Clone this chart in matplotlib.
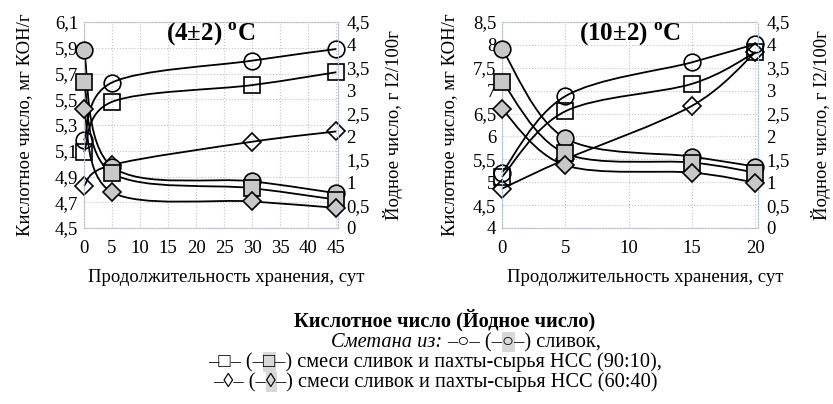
import matplotlib
matplotlib.use("Agg")
import matplotlib.pyplot as plt
from matplotlib.path import Path
from matplotlib.patches import PathPatch, Rectangle

plt.rcParams['font.family'] = ['Liberation Serif', 'DejaVu Sans']
plt.rcParams['mathtext.fontset'] = 'custom'
plt.rcParams['mathtext.rm'] = 'Liberation Serif'
plt.rcParams['mathtext.bf'] = 'Liberation Serif:bold'

# storage at (4±2) °C
days_4 = [0, 5, 30, 45]
acid_4_cream = [5.18, 5.63, 5.80, 5.89]
acid_4_mix90 = [5.09, 5.48, 5.61, 5.71]
acid_4_mix60 = [4.83, 4.99, 5.17, 5.25]
iod_4_cream = [3.89, 1.34, 1.02, 0.76]
iod_4_mix90 = [3.19, 1.20, 0.87, 0.62]
iod_4_mix60 = [2.60, 0.78, 0.58, 0.44]

# storage at (10±2) °C
days_10 = [0, 5, 15, 20]
acid_10_cream = [5.21, 6.88, 7.62, 8.02]
acid_10_mix90 = [5.12, 6.55, 7.15, 7.84]
acid_10_mix60 = [4.86, 5.50, 6.67, 7.84]
iod_10_cream = [3.91, 1.96, 1.56, 1.34]
iod_10_mix90 = [3.20, 1.63, 1.43, 1.21]
iod_10_mix60 = [2.59, 1.37, 1.21, 0.99]

left_ticks_4 = [4.5, 4.7, 4.9, 5.1, 5.3, 5.5, 5.7, 5.9, 6.1]
left_ticks_10 = [4, 4.5, 5, 5.5, 6, 6.5, 7, 7.5, 8, 8.5]
right_ticks = [0, 0.5, 1, 1.5, 2, 2.5, 3, 3.5, 4, 4.5]

XLABEL = 'Продолжительность хранения, сут'
YLABEL_L = 'Кислотное число, мг КОН/г'
YLABEL_R = '\u0419одное число, г I2/100г'

GREY = '#c8c8c8'
FS = 13.5      # ticks and axis labels
FS_LEG = 14.7  # legend under the charts

fig = plt.figure(figsize=(8.33, 4.04), dpi=100)
W, H = 833, 404


def fmt(v):
    s = ('%.1f' % v).replace('.', ',')
    return s[:-2] if s.endswith(',0') else s


def smooth(ax, xs, ys, z):
    # excel-like smoothed line: cubic bezier through the points
    n = len(xs)
    pts = list(zip(xs, ys))
    verts = [pts[0]]
    codes = [Path.MOVETO]
    for i in range(n - 1):
        p0 = pts[max(i - 1, 0)]
        p1 = pts[i]
        p2 = pts[i + 1]
        p3 = pts[min(i + 2, n - 1)]
        c1 = (p1[0] + (p2[0] - p0[0]) / 6, p1[1] + (p2[1] - p0[1]) / 6)
        c2 = (p2[0] - (p3[0] - p1[0]) / 6, p2[1] - (p3[1] - p1[1]) / 6)
        verts += [c1, c2, p2]
        codes += [Path.CURVE4] * 3
    patch = PathPatch(Path(verts, codes), facecolor='none', edgecolor='black',
                      lw=1.3, zorder=z, clip_on=False)
    ax.add_patch(patch)


def panel(left, right, days, acid, iod, xlim, xticks, lticks, title, lab_l, lab_r):
    top, bottom = 22, 228
    ax = fig.add_axes([left / W, 1 - bottom / H, (right - left) / W, (bottom - top) / H])
    ax2 = ax.twinx()
    ax.set_xlim(*xlim)
    ax.set_ylim(lticks[0], lticks[-1])
    ax2.set_ylim(0, 4.5)
    ax.set_xticks(xticks)
    ax.set_xticklabels([str(t) for t in xticks], fontsize=FS)
    ax.set_yticks(lticks)
    ax.set_yticklabels([fmt(t) for t in lticks], fontsize=FS)
    ax2.set_yticks(right_ticks)
    ax2.set_yticklabels([fmt(t) for t in right_ticks], fontsize=FS)
    ax.tick_params(axis='y', length=0, pad=4)
    ax.tick_params(axis='x', length=0, pad=9)
    ax2.tick_params(axis='y', length=0, pad=6)
    ax.grid(True, color='#c4c4c4', ls=':', lw=0.8)
    for a in (ax, ax2):
        for sp in a.spines.values():
            sp.set_color('#b8c0d8')
            sp.set_linestyle(':')
            sp.set_linewidth(0.8)
    ax.set_xlabel(XLABEL, fontsize=FS, labelpad=8)
    ax.xaxis.label.set_x(0.56)
    yc = 1 - (top + bottom) / 2 / H
    fig.text(lab_l / W, yc, YLABEL_L, rotation=90, ha='center', va='center', fontsize=FS)
    fig.text(lab_r / W, yc, YLABEL_R, rotation=90, ha='center', va='center', fontsize=FS)
    markers = [('o', 12), ('s', 11), ('D', 9)]
    for k, (ys, (m, ms)) in enumerate(zip(acid, markers)):
        smooth(ax, days, ys, 2 + 2 * k)
        ax.plot(days, ys, ls='none', marker=m, ms=ms, mfc='none', mec='black',
                mew=1.2, zorder=3 + 2 * k, clip_on=False)
    for k, (ys, (m, ms)) in enumerate(zip(iod, markers)):
        smooth(ax2, days, ys, 2 + 2 * k)
        ax2.plot(days, ys, ls='none', marker=m, ms=ms, mfc=GREY, mec='black',
                 mew=1.2, zorder=3 + 2 * k, clip_on=False)
    ax2.text(0.5, 0.94, title, transform=ax.transAxes, ha='center', va='center',
             fontsize=18, fontweight='bold', zorder=20)


panel(84, 338, days_4,
      [acid_4_cream, acid_4_mix90, acid_4_mix60],
      [iod_4_cream, iod_4_mix90, iod_4_mix60],
      (0, 45.3), list(range(0, 50, 5)), left_ticks_4, r'(4±2) $^{\mathbf{o}}$C', 25, 393)
panel(502, 758, days_10,
      [acid_10_cream, acid_10_mix90, acid_10_mix60],
      [iod_10_cream, iod_10_mix90, iod_10_mix60],
      (0, 20.2), [0, 5, 10, 15, 20], left_ticks_10, r'(10±2) $^{\mathbf{o}}$C', 450, 821)

# legend built from text pieces
fig.canvas.draw()
r = fig.canvas.get_renderer()


def width(s, **kw):
    t = fig.text(0, 0, s, fontsize=FS_LEG, **kw)
    w = t.get_window_extent(r).width
    t.remove()
    return w


space = FS_LEG * 100 / 72 * 0.25

fig.text(445 / W, 1 - 326 / H, 'Кислотное число (\u0419одное число)', ha='center',
         va='baseline', fontsize=FS_LEG, fontweight='bold')

legend_rows = [
    ('Сметана из:', '○', 'сливок,', 466, 347),
    ('', '□', 'смеси сливок и пахты-сырья НСС (90:10),', 435, 367),
    ('', '◊', 'смеси сливок и пахты-сырья НСС (60:40)', 435, 387),
]
for lead, sym, tail, cx, base in legend_rows:
    pre = '–' + sym + '– (–'
    body = pre + sym + '–) ' + tail
    wl = width(lead, style='italic') + space if lead else 0
    wb = width(body)
    x0 = cx - (wl + wb) / 2
    if lead:
        fig.text(x0 / W, 1 - base / H, lead, style='italic', fontsize=FS_LEG, va='baseline')
    xb = x0 + wl
    wp = width(pre)
    ws = width(pre + sym) - wp
    fig.patches.append(Rectangle(((xb + wp) / W, 1 - (base + 5) / H), (ws + 1) / W,
                                 20 / H, transform=fig.transFigure, facecolor='#d8d8d8',
                                 edgecolor='none', zorder=0))
    fig.text(xb / W, 1 - base / H, body, fontsize=FS_LEG, va='baseline', zorder=2)

fig.savefig('out.png', dpi=100)
